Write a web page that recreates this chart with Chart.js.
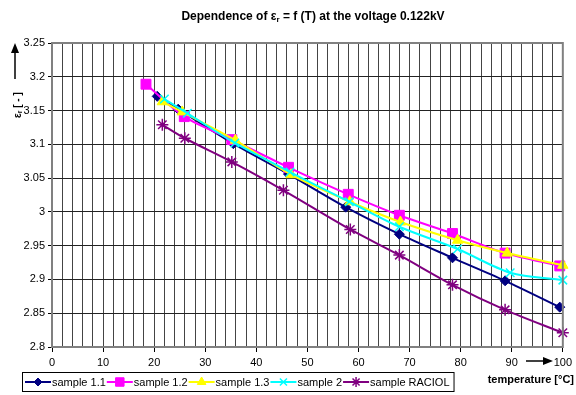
<!DOCTYPE html>
<html>
<head>
<meta charset="utf-8">
<script src="https://cdn.jsdelivr.net/npm/chart.js@4/dist/chart.umd.min.js"></script>
<style>
  html, body { margin: 0; padding: 0; background: #fff; }
  #wrap { width: 576px; height: 395px; position: relative; }
</style>
</head>
<body>
<div id="wrap"><canvas id="eps-chart"></canvas></div>
<script>
// values
const seriesNames = ["sample 1.1", "sample 1.2", "sample 1.3", "sample 2", "sample RACIOL"];

const temp11 = [20.6, 24.7, 35.5, 46.3, 57.5, 68, 78.4, 88.7, 99.4];
const eps11 = [3.171, 3.152, 3.101, 3.056, 3.007, 2.967, 2.932, 2.898, 2.859];

const temp12 = [18.4, 25.9, 35.2, 46.3, 58, 68, 78.4, 88.7, 99.4];
const eps12 = [3.189, 3.141, 3.107, 3.066, 3.026, 2.995, 2.968, 2.939, 2.920];

const temp13 = [21.6, 25.5, 35.9, 46.8, 58.3, 68.2, 79.4, 89.1, 100];
const eps13 = [3.163, 3.148, 3.106, 3.055, 3.015, 2.985, 2.958, 2.939, 2.921];

const temp2 = [22, 26.5, 35.8, 46.6, 58.2, 68, 79.4, 89.7, 100];
const eps2 = [3.167, 3.146, 3.102, 3.059, 3.015, 2.978, 2.945, 2.910, 2.899];

const tempRaciol = [21.6, 26, 35.2, 45.3, 58.4, 68, 78.4, 88.7, 100];
const epsRaciol = [3.129, 3.109, 3.074, 3.032, 2.974, 2.936, 2.892, 2.855, 2.821];

const xMin = 0, xMax = 100, xStep = 2, xLabelStep = 10;
const yMin = 2.8, yMax = 3.25, yStep = 0.05;

const FONT = "Arial, 'Liberation Sans', sans-serif";

function pts(xs, ys) {
  const out = [];
  for (let i = 0; i < xs.length; i++) out.push({ x: xs[i], y: ys[i] });
  return out;
}

const styles = [
  { color: "#000080", pointStyle: "rectRot", radius: 5, bw: 1 },
  { color: "#ff00ff", pointStyle: "rect", radius: 7, bw: 1 },
  { color: "#ffff00", pointStyle: "triangle", radius: 6, bw: 1 },
  { color: "#00ffff", pointStyle: "crossRot", radius: 6, bw: 1.5 },
  { color: "#800080", pointStyle: "star", radius: 6, bw: 1.5 },
];

const allX = [temp11, temp12, temp13, temp2, tempRaciol];
const allY = [eps11, eps12, eps13, eps2, epsRaciol];

const datasets = seriesNames.map((name, i) => ({
  label: name,
  data: pts(allX[i], allY[i]),
  borderColor: styles[i].color,
  backgroundColor: styles[i].color,
  pointBackgroundColor: styles[i].color,
  pointBorderColor: styles[i].color,
  pointStyle: styles[i].pointStyle,
  pointRadius: styles[i].radius,
  pointBorderWidth: styles[i].bw,
  borderWidth: 2,
  tension: 0.3,
  clip: false,
  order: 5 - i,
}));

// draw text with a subscript part: parts = [[text, isSub], ...]
function drawParts(ctx, parts, x, y, size, bold) {
  let cx = x;
  parts.forEach(([t, sub]) => {
    const s = sub ? Math.round(size * 0.7) : size;
    ctx.font = (bold ? "bold " : "") + s + "px " + FONT;
    ctx.fillText(t, cx, sub ? y + size * 0.25 : y);
    cx += ctx.measureText(t).width;
  });
  return cx - x;
}
function partsWidth(ctx, parts, size, bold) {
  let w = 0;
  parts.forEach(([t, sub]) => {
    const s = sub ? Math.round(size * 0.7) : size;
    ctx.font = (bold ? "bold " : "") + s + "px " + FONT;
    w += ctx.measureText(t).width;
  });
  return w;
}

function arrow(ctx, x1, y1, x2, y2) {
  const ang = Math.atan2(y2 - y1, x2 - x1);
  ctx.beginPath();
  ctx.moveTo(x1, y1);
  ctx.lineTo(x2 - 8 * Math.cos(ang), y2 - 8 * Math.sin(ang));
  ctx.lineWidth = 1.5;
  ctx.strokeStyle = "#000";
  ctx.stroke();
  ctx.beginPath();
  ctx.moveTo(x2, y2);
  ctx.lineTo(x2 - 10 * Math.cos(ang) + 4 * Math.sin(ang), y2 - 10 * Math.sin(ang) - 4 * Math.cos(ang));
  ctx.lineTo(x2 - 10 * Math.cos(ang) - 4 * Math.sin(ang), y2 - 10 * Math.sin(ang) + 4 * Math.cos(ang));
  ctx.closePath();
  ctx.fillStyle = "#000";
  ctx.fill();
}

const decorations = {
  id: "decorations",
  beforeDraw(chart) {
    const { ctx } = chart;
    ctx.save();
    ctx.fillStyle = "#fff";
    ctx.fillRect(0, 0, chart.width, chart.height);
    ctx.restore();
  },
  afterDraw(chart) {
    const { ctx, chartArea: a } = chart;
    ctx.save();
    ctx.textBaseline = "middle";
    ctx.fillStyle = "#000";

    // plot border
    ctx.strokeStyle = "#808080";
    ctx.lineWidth = 2;
    ctx.strokeRect(a.left, a.top, a.right - a.left, a.bottom - a.top);

    // title
    const title = [["Dependence of ε", false], ["r", true], [" = f (T) at the voltage 0.122kV", false]];
    const tw = partsWidth(ctx, title, 12, true);
    ctx.fillStyle = "#000";
    drawParts(ctx, title, 313 - tw / 2, 17, 12, true);

    // y title, rotated
    ctx.save();
    ctx.translate(18, 118);
    ctx.rotate(-Math.PI / 2);
    drawParts(ctx, [["ε", false], ["r", true], [" [ - ]", false]], 0, 0, 10, true);
    ctx.restore();
    arrow(ctx, 15, 79, 15, 43);

    // x title
    ctx.fillStyle = "#000";
    ctx.font = "bold 11px " + FONT;
    ctx.textAlign = "right";
    ctx.fillText("temperature [°C]", 574, 380);
    ctx.textAlign = "left";
    arrow(ctx, 526, 361, 553, 361);

    // legend
    const ly = 382;
    let lx = 25;
    ctx.font = "11px " + FONT;
    chart.data.datasets.forEach((ds) => {
      ctx.strokeStyle = ds.borderColor;
      ctx.lineWidth = 2;
      ctx.beginPath();
      ctx.moveTo(lx, ly);
      ctx.lineTo(lx + 26, ly);
      ctx.stroke();
      ctx.fillStyle = ds.pointBackgroundColor;
      ctx.strokeStyle = ds.pointBorderColor;
      ctx.lineWidth = ds.pointBorderWidth;
      Chart.helpers.drawPoint(ctx, {
        pointStyle: ds.pointStyle,
        radius: ds.pointRadius - 1,
        rotation: 0,
        borderWidth: ds.pointBorderWidth,
      }, lx + 13, ly);
      ctx.fillStyle = "#000";
      ctx.font = "11px " + FONT;
      ctx.fillText(ds.label, lx + 27, ly + 1);
      lx = lx + 27 + ctx.measureText(ds.label).width + 1;
    });
    ctx.strokeStyle = "#000";
    ctx.lineWidth = 1;
    ctx.strokeRect(22.5, 372.5, lx - 19, 19);
    ctx.restore();
  },
};

new Chart(document.getElementById("eps-chart"), {
  type: "line",
  data: { datasets },
  options: {
    responsive: true,
    maintainAspectRatio: false,
    animation: false,
    layout: { padding: { top: 43, right: 8, left: 0, bottom: 0 } },
    plugins: {
      legend: { display: false },
      title: { display: false },
      tooltip: { enabled: false },
    },
    scales: {
      x: {
        type: "linear",
        min: xMin,
        max: xMax,
        afterFit(scale) { scale.height = 48; },
        ticks: {
          stepSize: xStep,
          autoSkip: false,
          maxRotation: 0,
          color: "#000",
          padding: 4,
          font: { family: FONT, size: 11 },
          callback: (v) => (v % xLabelStep === 0 ? String(v) : ""),
        },
        grid: {
          color: "#444",
          lineWidth: 1,
          tickLength: 5,
          tickColor: (c) => (c.tick && c.tick.value % xLabelStep === 0 ? "#000" : "rgba(0,0,0,0)"),
        },
        border: { display: false },
      },
      y: {
        min: yMin,
        max: yMax,
        afterFit(scale) { scale.width = 52; },
        ticks: {
          stepSize: yStep,
          color: "#000",
          padding: 3,
          font: { family: FONT, size: 11 },
          callback: (v) => String(+v.toFixed(2)),
        },
        grid: {
          color: "#222",
          lineWidth: 1,
          tickLength: 4,
          tickColor: "#000",
        },
        border: { display: false },
      },
    },
  },
  plugins: [decorations],
});
</script>
</body>
</html>
